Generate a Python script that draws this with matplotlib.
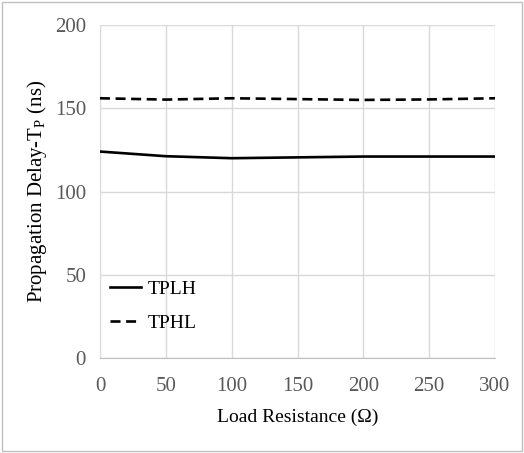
import matplotlib
matplotlib.use("Agg")
import matplotlib.pyplot as plt
from matplotlib.patches import Rectangle

plt.rcParams['font.family'] = ['Liberation Serif', 'DejaVu Serif']
plt.rcParams['mathtext.default'] = 'regular'

resistance = [0, 50, 100, 150, 200, 250, 300]
tplh = [124.0, 121.2, 120.0, 120.5, 121.0, 121.0, 121.0]
tphl = [156.0, 155.2, 156.0, 155.5, 155.0, 155.3, 156.0]
x_ticks = [0, 50, 100, 150, 200, 250, 300]
y_ticks = [0, 50, 100, 150, 200]

fig = plt.figure(figsize=(5.24, 4.53), dpi=100)
fig.patches.append(Rectangle((0.004, 0.004), 0.992, 0.992, transform=fig.transFigure,
                             fill=False, edgecolor='#bfbfbf', linewidth=1.0))
ax = fig.add_axes([0.1908, 0.2097, 0.7539, 0.7351])

ax.plot(resistance, tplh, color='black', linewidth=1.9, label='TPLH')
ax.plot(resistance, tphl, color='black', linewidth=1.9, linestyle=(0, (3.8, 2.1)), label='TPHL')

ax.set_xlim(0, 300)
ax.set_ylim(0, 200)
ax.set_xticks(x_ticks)
ax.set_yticks(y_ticks)
ax.grid(True, color='#d9d9d9', linewidth=1.0)
ax.set_axisbelow(True)
for s in ['top', 'right', 'left']:
    ax.spines[s].set_visible(False)
ax.spines['bottom'].set_color('#bfbfbf')
ax.tick_params(length=0, labelsize=15, colors='#595959')
ax.tick_params(axis='y', pad=10)
ax.tick_params(axis='x', pad=14)

ax.set_xlabel('Load Resistance (\u03a9)', fontsize=14, color='black', labelpad=9)
ax.set_ylabel('Propagation Delay-T$_{P}$ (ns)', fontsize=15, color='black', labelpad=4)

leg = ax.legend(loc='lower left', bbox_to_anchor=(0.0, 0.05), frameon=False, fontsize=14,
                handlelength=1.6, labelspacing=0.82, handletextpad=0.35, borderaxespad=0.3,
                borderpad=0.2)

fig.savefig('out.png', dpi=100)
